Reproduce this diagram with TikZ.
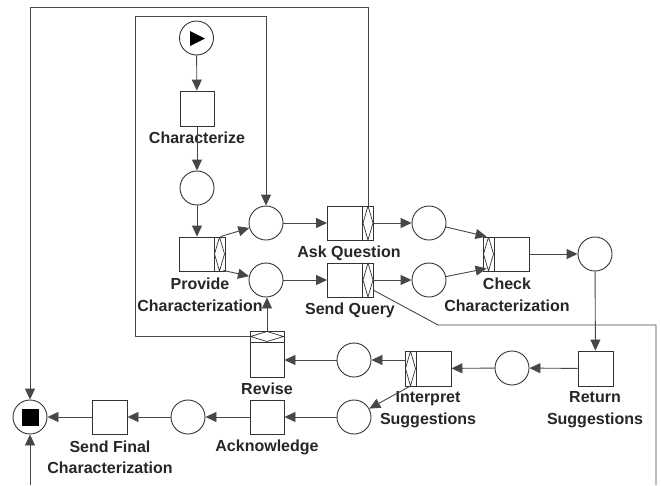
\documentclass[tikz,border=0pt]{standalone}
\usepackage{fontspec}
\setmainfont{Liberation Sans}
\usetikzlibrary{arrows.meta,calc}
\begin{document}
\begin{tikzpicture}[x=1pt,y=-1pt,
  ln/.style={draw=black!72, line width=0.9pt},
  arr/.style={ln, -{Triangle[length=11pt,width=10pt]}},
  place/.style={circle, draw=black!80, line width=0.9pt, minimum size=34pt, inner sep=0pt},
  trans/.style={rectangle, draw=black!80, line width=0.9pt, minimum width=34pt, minimum height=34pt, inner sep=0pt},
  xorR/.style={trans, minimum width=46pt, path picture={
     \draw[black!80, line width=0.8pt] ([xshift=-11pt]path picture bounding box.north east) -- ([xshift=-11pt]path picture bounding box.south east);
     \draw[black!80, line width=0.7pt] ([xshift=-5.5pt]path picture bounding box.north east) -- ([xshift=-0.5pt]path picture bounding box.east) -- ([xshift=-5.5pt]path picture bounding box.south east) -- ([xshift=-10.5pt]path picture bounding box.east) -- cycle;}},
  xorL/.style={trans, minimum width=46pt, path picture={
     \draw[black!80, line width=0.8pt] ([xshift=11pt]path picture bounding box.north west) -- ([xshift=11pt]path picture bounding box.south west);
     \draw[black!80, line width=0.7pt] ([xshift=5.5pt]path picture bounding box.north west) -- ([xshift=0.5pt]path picture bounding box.west) -- ([xshift=5.5pt]path picture bounding box.south west) -- ([xshift=10.5pt]path picture bounding box.west) -- cycle;}},
  xorT/.style={trans, minimum height=46pt, path picture={
     \draw[black!80, line width=0.8pt] ([yshift=-11pt]path picture bounding box.north west) -- ([yshift=-11pt]path picture bounding box.north east);
     \draw[black!80, line width=0.7pt] ([xshift=0.5pt,yshift=-5.5pt]path picture bounding box.north west) -- ([yshift=-0.5pt]path picture bounding box.north) -- ([xshift=-0.5pt,yshift=-5.5pt]path picture bounding box.north east) -- ([yshift=-10.5pt]path picture bounding box.north) -- cycle;}},
  lbl/.style={font=\fontsize{16}{21.5}\selectfont\bfseries, text=black!85, align=center, inner sep=0pt}
]
\useasboundingbox (0,0) rectangle (661,485);

% nodes
\node[place] (start) at (196.5,38) {};
\fill[black] (190,31) -- (205,38.5) -- (190,46) -- cycle;
\node[trans, minimum height=35pt] (charz) at (197,108.5) {};
\node[place] (p1) at (197,188) {};
\node[xorR] (prov) at (202,254) {};
\node[place] (pup) at (266,223) {};
\node[place] (plow) at (266,280) {};
\node[xorR] (askq) at (350.5,223) {};
\node[xorR] (sendq) at (350.5,280) {};
\node[place] (pa) at (429,223) {};
\node[place] (pb) at (429,280) {};
\node[xorL] (check) at (506,254) {};
\node[place] (pc) at (595,254) {};
\node[trans, minimum width=35pt, minimum height=35pt] (ret) at (595.5,368.5) {};
\node[place] (pd) at (512,368) {};
\node[xorL, minimum height=35pt] (interp) at (428,368.5) {};
\node[place] (pe) at (354,360) {};
\node[place] (pf) at (354,417) {};
\node[xorT] (revise) at (267,354) {};
\node[trans] (ack) at (267,417) {};
\node[place] (pg) at (188,417) {};
\node[trans, minimum width=35pt] (sendf) at (109.5,417) {};
\node[place] (end) at (30,417) {};
\fill[black] (21.5,408.5) rectangle (38.5,425.5);

% labels
\node[lbl] (tcharz) at (197,138) {Characterize};
\node[lbl] (tprov) at (200,295) {Provide\\Characterization};
\node[lbl] (taskq) at (349,253) {Ask Question};
\node[lbl] (tsendq) at (350,310) {Send Query};
\node[lbl] (tcheck) at (507,295) {Check\\Characterization};
\node[lbl] (tret) at (595,409.5) {Return\\Suggestions};
\node[lbl] (tinterp) at (428,409.5) {Interpret\\Suggestions};
\node[lbl] (trevise) at (267,389) {Revise};
\node[lbl] (tack) at (267,447) {Acknowledge};
\node[lbl] (tsendf) at (110,457.5) {Send Final\\Characterization};

% free-end coordinates
\coordinate (topL) at (30,7);
\coordinate (inL) at (135,16);
\coordinate (bend) at (438,325);
\coordinate (outR) at (656,325);
\coordinate (outB) at (656,485);
\coordinate (inB) at (30,485);

% connectors
\draw[arr] (start) -- (charz);
\draw[arr] (charz) -- (p1);
\draw[arr] (p1.south) -- (p1.south |- prov.north);
\draw[arr] ([xshift=-5pt]prov.north east) -- (pup);
\draw[arr] ([xshift=-2pt,yshift=1pt]prov.south east) -- (plow);
\draw[arr] (pup) -- (askq);
\draw[arr] (plow) -- (sendq);
\draw[arr] (askq) -- (pa);
\draw[arr] (sendq) -- (pb);
\draw[arr] (pa) -- ([xshift=4pt]check.north west);
\draw[arr] (pb) -- ([xshift=4pt,yshift=3pt]check.south west);
\draw[arr] (check) -- (pc);
\draw[arr] (pc) -- (ret);
\draw[arr] (ret) -- (pd);
\draw[arr] (pd) -- (interp);
\draw[arr] (interp.west |- pe.east) -- (pe.east);
\draw[arr] ([xshift=5pt]interp.south west) -- (pf);
\draw[arr] (pe.west) -- (pe.west -| revise.east);
\draw[arr] (pf) -- (ack);
\draw[arr] (ack) -- (pg);
\draw[arr] (pg) -- (sendf);
\draw[arr] (sendf) -- (end);
\draw[arr] (revise.north) -- (revise.north |- plow.south);
\draw[arr] ([yshift=-6pt]revise.north west) -| (inL) -| (pup.north);
\draw[arr] ([xshift=-5.5pt]askq.north east) |- (topL) -- (end.north);
\draw[ln] ([yshift=7pt]sendq.south east) -- (bend) -- (outR) -- (outB);
\draw[arr] (inB) -- (end.south);
\end{tikzpicture}
\end{document}
